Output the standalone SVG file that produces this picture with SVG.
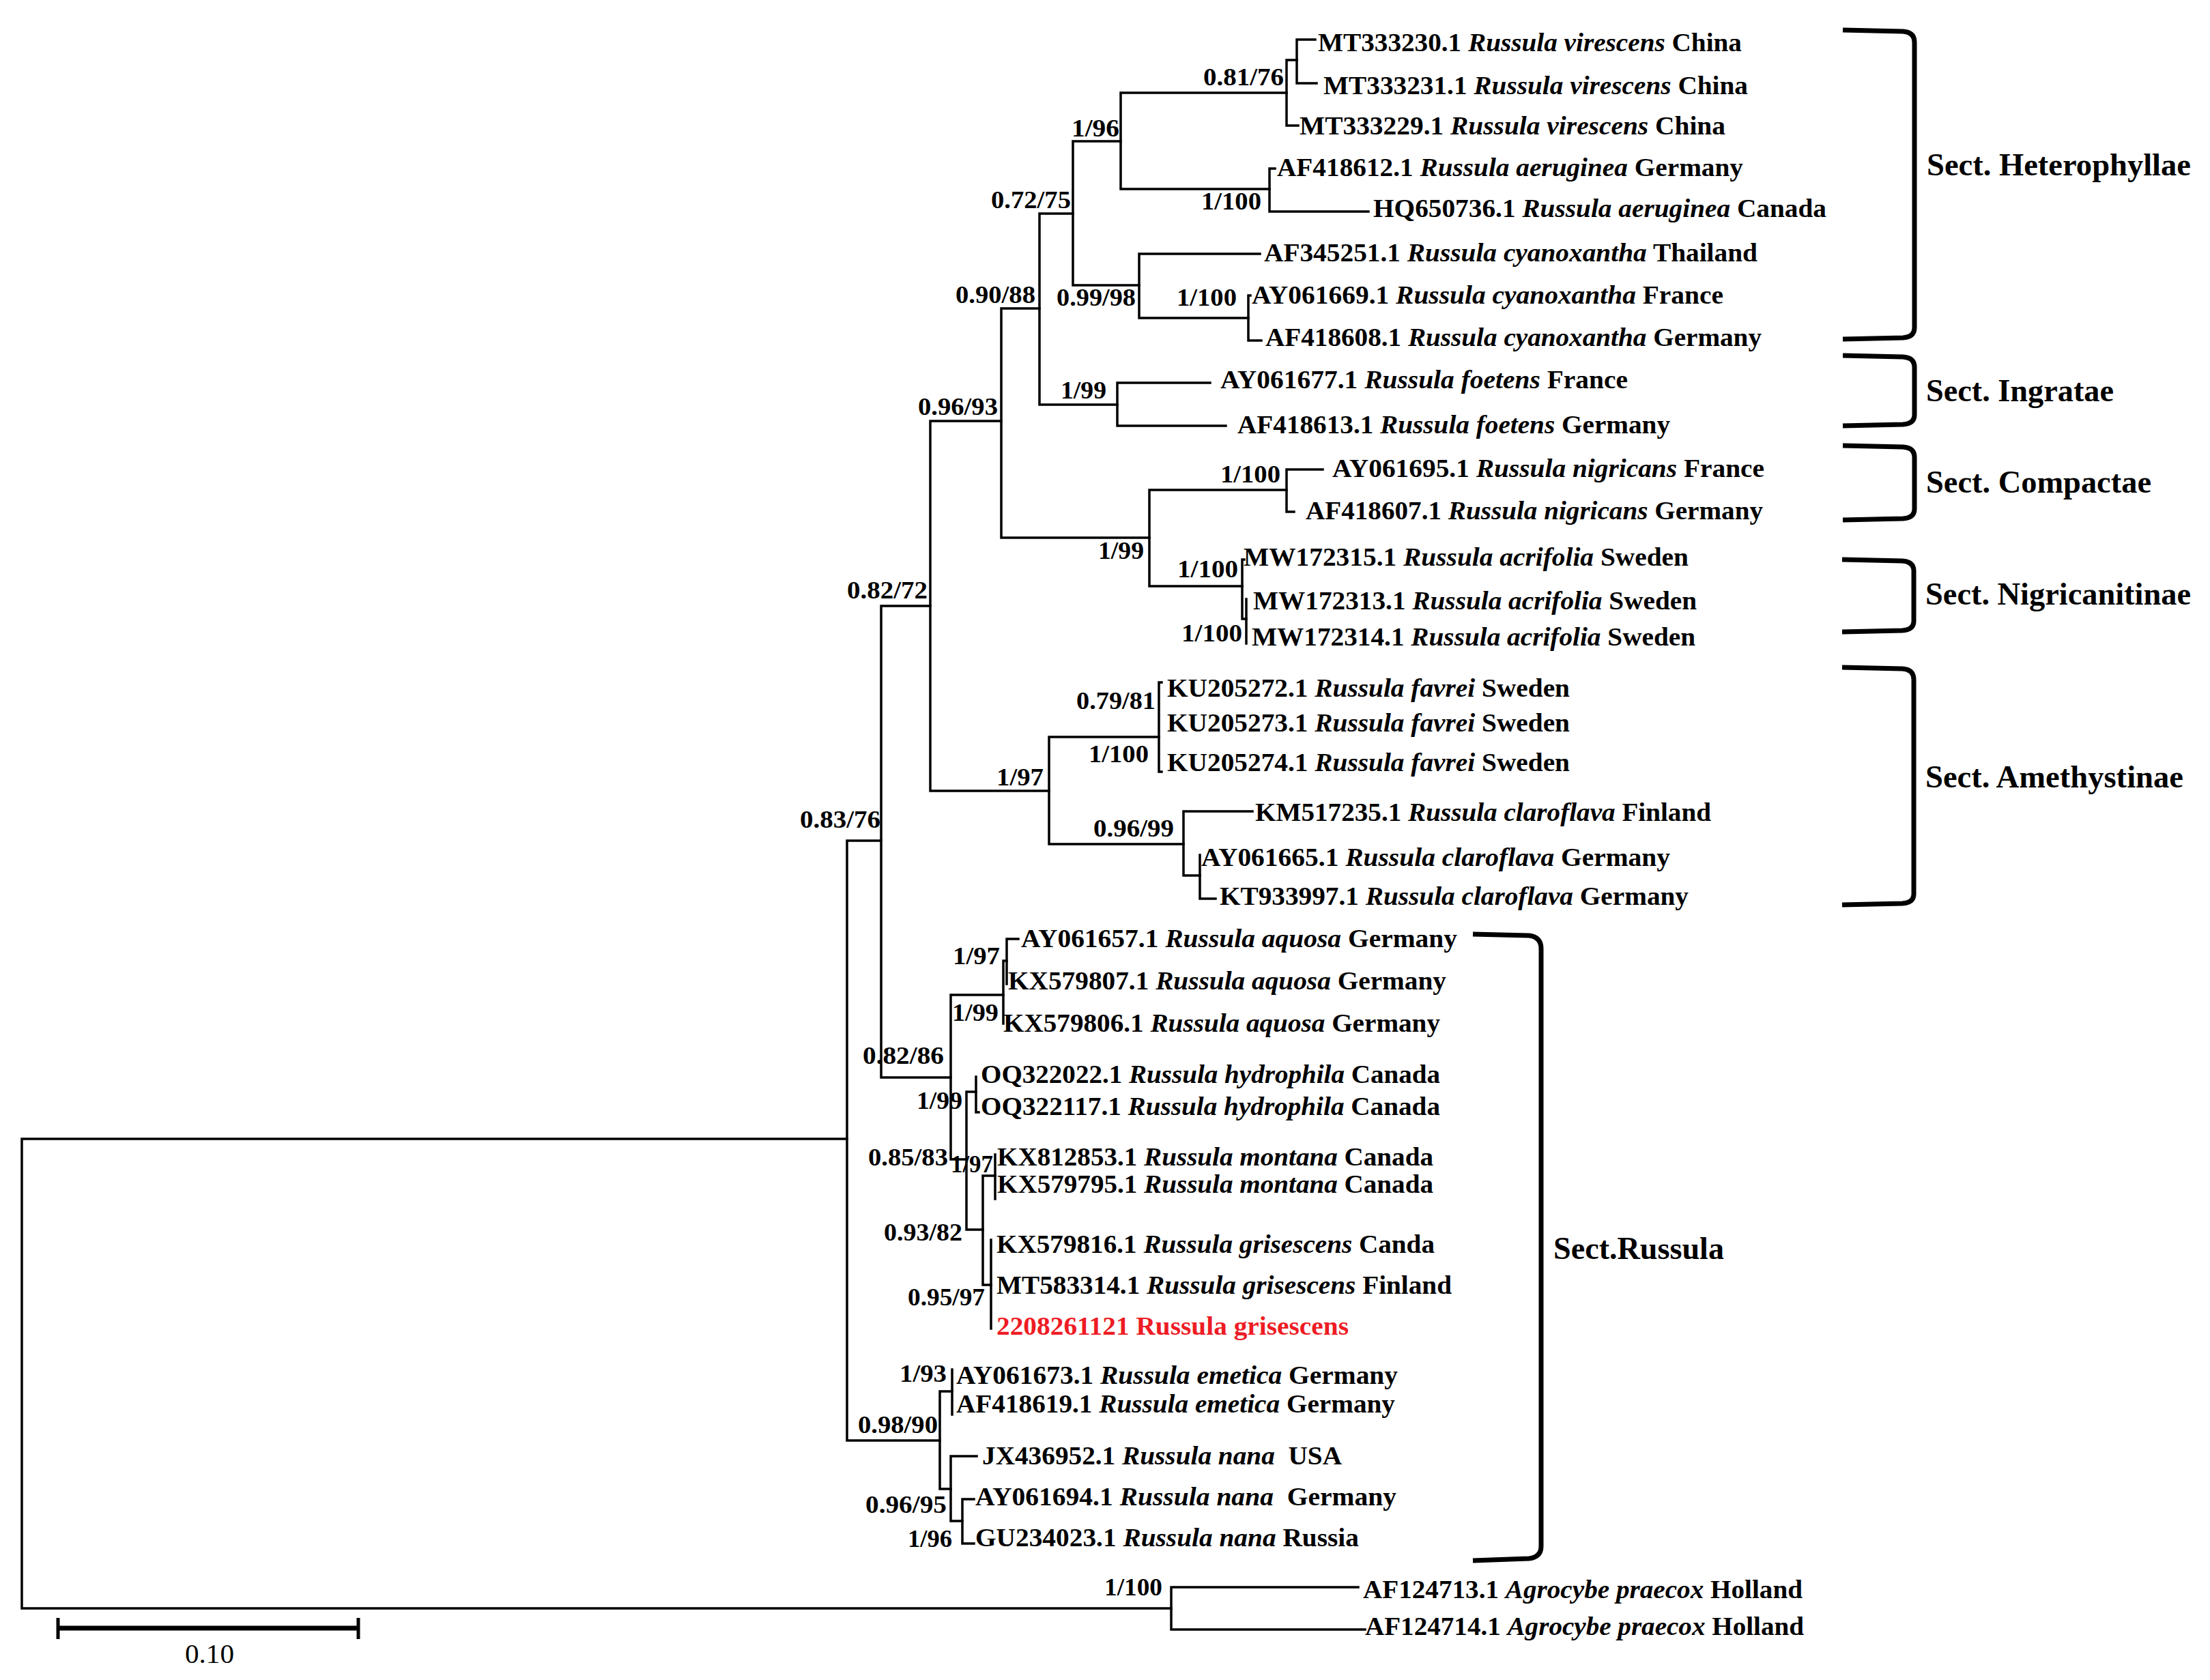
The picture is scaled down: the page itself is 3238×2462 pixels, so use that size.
<svg xmlns="http://www.w3.org/2000/svg" width="3238" height="2462" viewBox="0 0 3238 2462">
<style>
text{font-family:"Liberation Serif","Times New Roman",serif;font-weight:bold;fill:#000}
.t{font-size:38px}
.i{font-style:italic}
.red{fill:#ee1c24}
.s{font-size:35px}
.sec{font-size:47px}
.sb{font-size:40px;font-weight:normal}
.br{fill:none;stroke:#000;stroke-width:3.5;stroke-linecap:square}
.bk{fill:none;stroke:#000;stroke-width:7;stroke-linejoin:round}
</style>
<rect width="3238" height="2462" fill="#fff"/>
<g id="connectors">
<path class="br" d="M32,1669 V2357 M32,1669 H1241 M32,2357 H1716"/>
<path class="br" d="M1716,2326 V2388 M1716,2326 H1990 M1716,2388 H2000"/>
<path class="br" d="M1241,1232 V2111 M1241,1232 H1291 M1241,2111 H1377"/>
<path class="br" d="M1291,888 V1579 M1291,888 H1363 M1291,1579 H1393"/>
<path class="br" d="M1363,617 V1159 M1363,617 H1467 M1363,1159 H1537"/>
<path class="br" d="M1467,452 V788 M1467,452 H1523 M1467,788 H1684"/>
<path class="br" d="M1523,313 V593 M1523,313 H1572 M1523,593 H1637"/>
<path class="br" d="M1572,207 V418 M1572,207 H1642 M1572,418 H1669"/>
<path class="br" d="M1642,136 V277 M1642,136 H1885 M1642,277 H1860"/>
<path class="br" d="M1885,88 V184 M1885,88 H1900 M1885,184 H1902"/>
<path class="br" d="M1900,58 V122 M1900,58 H1927 M1900,122 H1929"/>
<path class="br" d="M1860,247 V310 M1860,247 H1868 M1860,310 H2005"/>
<path class="br" d="M1669,372 V466 M1669,372 H1846 M1669,466 H1829"/>
<path class="br" d="M1829,433 V499 M1829,433 H1832 M1829,499 H1848"/>
<path class="br" d="M1637,561 V624 M1637,561 H1773 M1637,624 H1796"/>
<path class="br" d="M1684,718 V859 M1684,718 H1885 M1684,859 H1820"/>
<path class="br" d="M1885,688 V750 M1885,688 H1938 M1885,750 H1896"/>
<path class="br" d="M1820,820 V907 M1820,820 H1823 M1820,907 H1826"/>
<path class="br" d="M1826,878 V943"/>
<path class="br" d="M1537,1080 V1237 M1537,1080 H1698 M1537,1237 H1734"/>
<path class="br" d="M1698,1000 V1131 M1698,1000 H1702 M1698,1131 H1702"/>
<path class="br" d="M1734,1189 V1283 M1734,1189 H1835 M1734,1283 H1758"/>
<path class="br" d="M1758,1253 V1317 M1758,1317 H1781"/>
<path class="br" d="M1393,1458 V1699 M1393,1458 H1470 M1393,1699 H1416"/>
<path class="br" d="M1470,1408 V1500 M1470,1408 H1475"/>
<path class="br" d="M1475,1376 V1442 M1475,1376 H1492"/>
<path class="br" d="M1416,1600 V1802 M1416,1600 H1430 M1416,1802 H1440"/>
<path class="br" d="M1430,1578 V1630 M1430,1630 H1434"/>
<path class="br" d="M1440,1723 V1883 M1440,1723 H1458 M1440,1883 H1452"/>
<path class="br" d="M1458,1692 V1757"/>
<path class="br" d="M1452,1817 V1947"/>
<path class="br" d="M1377,2039 V2182 M1377,2039 H1395 M1377,2182 H1393"/>
<path class="br" d="M1395,2007 V2073"/>
<path class="br" d="M1393,2134 V2229 M1393,2134 H1431 M1393,2229 H1410"/>
<path class="br" d="M1410,2197 V2262 M1410,2197 H1427 M1410,2262 H1427"/>
</g>
<g id="supports">
<text class="s" x="1763" y="125" textLength="118" lengthAdjust="spacingAndGlyphs">0.81/76</text>
<text class="s" x="1570" y="200" textLength="70" lengthAdjust="spacingAndGlyphs">1/96</text>
<text class="s" x="1760" y="307" textLength="88" lengthAdjust="spacingAndGlyphs">1/100</text>
<text class="s" x="1452" y="305" textLength="117" lengthAdjust="spacingAndGlyphs">0.72/75</text>
<text class="s" x="1548" y="448" textLength="116" lengthAdjust="spacingAndGlyphs">0.99/98</text>
<text class="s" x="1724" y="448" textLength="88" lengthAdjust="spacingAndGlyphs">1/100</text>
<text class="s" x="1400" y="444" textLength="117" lengthAdjust="spacingAndGlyphs">0.90/88</text>
<text class="s" x="1554" y="584" textLength="67" lengthAdjust="spacingAndGlyphs">1/99</text>
<text class="s" x="1345" y="608" textLength="117" lengthAdjust="spacingAndGlyphs">0.96/93</text>
<text class="s" x="1788" y="707" textLength="88" lengthAdjust="spacingAndGlyphs">1/100</text>
<text class="s" x="1609" y="819" textLength="67" lengthAdjust="spacingAndGlyphs">1/99</text>
<text class="s" x="1725" y="846" textLength="89" lengthAdjust="spacingAndGlyphs">1/100</text>
<text class="s" x="1731" y="940" textLength="89" lengthAdjust="spacingAndGlyphs">1/100</text>
<text class="s" x="1241" y="877" textLength="118" lengthAdjust="spacingAndGlyphs">0.82/72</text>
<text class="s" x="1577" y="1039" textLength="116" lengthAdjust="spacingAndGlyphs">0.79/81</text>
<text class="s" x="1595" y="1117" textLength="88" lengthAdjust="spacingAndGlyphs">1/100</text>
<text class="s" x="1460" y="1151" textLength="69" lengthAdjust="spacingAndGlyphs">1/97</text>
<text class="s" x="1172" y="1213" textLength="118" lengthAdjust="spacingAndGlyphs">0.83/76</text>
<text class="s" x="1602" y="1226" textLength="118" lengthAdjust="spacingAndGlyphs">0.96/99</text>
<text class="s" x="1396" y="1413" textLength="69" lengthAdjust="spacingAndGlyphs">1/97</text>
<text class="s" x="1395" y="1496" textLength="68" lengthAdjust="spacingAndGlyphs">1/99</text>
<text class="s" x="1264" y="1559" textLength="119" lengthAdjust="spacingAndGlyphs">0.82/86</text>
<text class="s" x="1343" y="1625" textLength="67" lengthAdjust="spacingAndGlyphs">1/99</text>
<text class="s" x="1272" y="1708" textLength="117" lengthAdjust="spacingAndGlyphs">0.85/83</text>
<text class="s" x="1393" y="1718" textLength="62" lengthAdjust="spacingAndGlyphs">1/97</text>
<text class="s" x="1295" y="1818" textLength="115" lengthAdjust="spacingAndGlyphs">0.93/82</text>
<text class="s" x="1330" y="1913" textLength="113" lengthAdjust="spacingAndGlyphs">0.95/97</text>
<text class="s" x="1318" y="2025" textLength="69" lengthAdjust="spacingAndGlyphs">1/93</text>
<text class="s" x="1257" y="2100" textLength="117" lengthAdjust="spacingAndGlyphs">0.98/90</text>
<text class="s" x="1268" y="2217" textLength="119" lengthAdjust="spacingAndGlyphs">0.96/95</text>
<text class="s" x="1330" y="2267" textLength="65" lengthAdjust="spacingAndGlyphs">1/96</text>
<text class="s" x="1618" y="2338" textLength="85" lengthAdjust="spacingAndGlyphs">1/100</text>
</g>
<g id="leaf-MT333230"><text class="t" x="1931" y="75" textLength="621" lengthAdjust="spacingAndGlyphs">MT333230.1 <tspan class="i">Russula virescens</tspan> China</text></g>
<g id="leaf-MT333231"><text class="t" x="1939" y="138" textLength="622" lengthAdjust="spacingAndGlyphs">MT333231.1 <tspan class="i">Russula virescens</tspan> China</text></g>
<g id="leaf-MT333229"><text class="t" x="1904" y="197" textLength="624" lengthAdjust="spacingAndGlyphs">MT333229.1 <tspan class="i">Russula virescens</tspan> China</text></g>
<g id="leaf-AF418612"><text class="t" x="1871" y="258" textLength="683" lengthAdjust="spacingAndGlyphs">AF418612.1 <tspan class="i">Russula aeruginea</tspan> Germany</text></g>
<g id="leaf-HQ650736"><text class="t" x="2012" y="318" textLength="664" lengthAdjust="spacingAndGlyphs">HQ650736.1 <tspan class="i">Russula aeruginea</tspan> Canada</text></g>
<g id="leaf-AF345251"><text class="t" x="1852" y="383" textLength="723" lengthAdjust="spacingAndGlyphs">AF345251.1 <tspan class="i">Russula cyanoxantha</tspan> Thailand</text></g>
<g id="leaf-AY061669"><text class="t" x="1834" y="445" textLength="691" lengthAdjust="spacingAndGlyphs">AY061669.1 <tspan class="i">Russula cyanoxantha</tspan> France</text></g>
<g id="leaf-AF418608"><text class="t" x="1854" y="507" textLength="727" lengthAdjust="spacingAndGlyphs">AF418608.1 <tspan class="i">Russula cyanoxantha</tspan> Germany</text></g>
<g id="leaf-AY061677"><text class="t" x="1788" y="569" textLength="597" lengthAdjust="spacingAndGlyphs">AY061677.1 <tspan class="i">Russula foetens</tspan> France</text></g>
<g id="leaf-AF418613"><text class="t" x="1813" y="635" textLength="634" lengthAdjust="spacingAndGlyphs">AF418613.1 <tspan class="i">Russula foetens</tspan> Germany</text></g>
<g id="leaf-AY061695"><text class="t" x="1952" y="699" textLength="633" lengthAdjust="spacingAndGlyphs">AY061695.1 <tspan class="i">Russula nigricans</tspan> France</text></g>
<g id="leaf-AF418607"><text class="t" x="1913" y="761" textLength="670" lengthAdjust="spacingAndGlyphs">AF418607.1 <tspan class="i">Russula nigricans</tspan> Germany</text></g>
<g id="leaf-MW172315"><text class="t" x="1822" y="829" textLength="652" lengthAdjust="spacingAndGlyphs">MW172315.1 <tspan class="i">Russula acrifolia</tspan> Sweden</text></g>
<g id="leaf-MW172313"><text class="t" x="1836" y="893" textLength="650" lengthAdjust="spacingAndGlyphs">MW172313.1 <tspan class="i">Russula acrifolia</tspan> Sweden</text></g>
<g id="leaf-MW172314"><text class="t" x="1834" y="946" textLength="650" lengthAdjust="spacingAndGlyphs">MW172314.1 <tspan class="i">Russula acrifolia</tspan> Sweden</text></g>
<g id="leaf-KU205272"><text class="t" x="1710" y="1021" textLength="590" lengthAdjust="spacingAndGlyphs">KU205272.1 <tspan class="i">Russula favrei</tspan> Sweden</text></g>
<g id="leaf-KU205273"><text class="t" x="1710" y="1072" textLength="590" lengthAdjust="spacingAndGlyphs">KU205273.1 <tspan class="i">Russula favrei</tspan> Sweden</text></g>
<g id="leaf-KU205274"><text class="t" x="1710" y="1130" textLength="590" lengthAdjust="spacingAndGlyphs">KU205274.1 <tspan class="i">Russula favrei</tspan> Sweden</text></g>
<g id="leaf-KM517235"><text class="t" x="1839" y="1203" textLength="668" lengthAdjust="spacingAndGlyphs">KM517235.1 <tspan class="i">Russula claroflava</tspan> Finland</text></g>
<g id="leaf-AY061665"><text class="t" x="1760" y="1269" textLength="687" lengthAdjust="spacingAndGlyphs">AY061665.1 <tspan class="i">Russula claroflava</tspan> Germany</text></g>
<g id="leaf-KT933997"><text class="t" x="1787" y="1326" textLength="687" lengthAdjust="spacingAndGlyphs">KT933997.1 <tspan class="i">Russula claroflava</tspan> Germany</text></g>
<g id="leaf-AY061657"><text class="t" x="1496" y="1388" textLength="639" lengthAdjust="spacingAndGlyphs">AY061657.1 <tspan class="i">Russula aquosa</tspan> Germany</text></g>
<g id="leaf-KX579807"><text class="t" x="1477" y="1450" textLength="642" lengthAdjust="spacingAndGlyphs">KX579807.1 <tspan class="i">Russula aquosa</tspan> Germany</text></g>
<g id="leaf-KX579806"><text class="t" x="1470" y="1512" textLength="640" lengthAdjust="spacingAndGlyphs">KX579806.1 <tspan class="i">Russula aquosa</tspan> Germany</text></g>
<g id="leaf-OQ322022"><text class="t" x="1437" y="1587" textLength="673" lengthAdjust="spacingAndGlyphs">OQ322022.1 <tspan class="i">Russula hydrophila</tspan> Canada</text></g>
<g id="leaf-OQ322117"><text class="t" x="1437" y="1634" textLength="673" lengthAdjust="spacingAndGlyphs">OQ322117.1 <tspan class="i">Russula hydrophila</tspan> Canada</text></g>
<g id="leaf-KX812853"><text class="t" x="1461" y="1708" textLength="639" lengthAdjust="spacingAndGlyphs">KX812853.1 <tspan class="i">Russula montana</tspan> Canada</text></g>
<g id="leaf-KX579795"><text class="t" x="1461" y="1748" textLength="639" lengthAdjust="spacingAndGlyphs">KX579795.1 <tspan class="i">Russula montana</tspan> Canada</text></g>
<g id="leaf-KX579816"><text class="t" x="1460" y="1836" textLength="642" lengthAdjust="spacingAndGlyphs">KX579816.1 <tspan class="i">Russula grisescens</tspan> Canda</text></g>
<g id="leaf-MT583314"><text class="t" x="1460" y="1896" textLength="667" lengthAdjust="spacingAndGlyphs">MT583314.1 <tspan class="i">Russula grisescens</tspan> Finland</text></g>
<g id="leaf-2208261121"><text class="t red" x="1460" y="1956" textLength="516" lengthAdjust="spacingAndGlyphs">2208261121 Russula grisescens</text></g>
<g id="leaf-AY061673"><text class="t" x="1401" y="2028" textLength="647" lengthAdjust="spacingAndGlyphs">AY061673.1 <tspan class="i">Russula emetica</tspan> Germany</text></g>
<g id="leaf-AF418619"><text class="t" x="1401" y="2070" textLength="643" lengthAdjust="spacingAndGlyphs">AF418619.1 <tspan class="i">Russula emetica</tspan> Germany</text></g>
<g id="leaf-JX436952"><text class="t" x="1439" y="2146" textLength="527" lengthAdjust="spacingAndGlyphs" xml:space="preserve">JX436952.1 <tspan class="i">Russula nana</tspan>  USA</text></g>
<g id="leaf-AY061694"><text class="t" x="1429" y="2206" textLength="617" lengthAdjust="spacingAndGlyphs" xml:space="preserve">AY061694.1 <tspan class="i">Russula nana</tspan>  Germany</text></g>
<g id="leaf-GU234023"><text class="t" x="1429" y="2266" textLength="562" lengthAdjust="spacingAndGlyphs">GU234023.1 <tspan class="i">Russula nana</tspan> Russia</text></g>
<g id="leaf-AF124713"><text class="t" x="1997" y="2342" textLength="644" lengthAdjust="spacingAndGlyphs">AF124713.1 <tspan class="i">Agrocybe praecox</tspan> Holland</text></g>
<g id="leaf-AF124714"><text class="t" x="2000" y="2396" textLength="643" lengthAdjust="spacingAndGlyphs">AF124714.1 <tspan class="i">Agrocybe praecox</tspan> Holland</text></g>
<g id="sect-heterophyllae">
<path class="bk" d="M2700,44 L2788,46 Q2805,47 2805,62 L2805,480 Q2805,494 2788,495 L2700,497"/>
<text class="sec" x="2823" y="257" textLength="387" lengthAdjust="spacingAndGlyphs">Sect. Heterophyllae</text>
</g>
<g id="sect-ingratae">
<path class="bk" d="M2700,521 L2788,523 Q2805,524 2805,538 L2805,608 Q2805,621 2788,622 L2700,624"/>
<text class="sec" x="2822" y="588" textLength="275" lengthAdjust="spacingAndGlyphs">Sect. Ingratae</text>
</g>
<g id="sect-compactae">
<path class="bk" d="M2700,653 L2788,655 Q2805,656 2805,670 L2805,746 Q2805,759 2788,760 L2700,762"/>
<text class="sec" x="2822" y="722" textLength="330" lengthAdjust="spacingAndGlyphs">Sect. Compactae</text>
</g>
<g id="sect-nigricanitinae">
<path class="bk" d="M2699,820 L2787,822 Q2804,823 2804,837 L2804,910 Q2804,923 2787,924 L2699,926"/>
<text class="sec" x="2821" y="886" textLength="389" lengthAdjust="spacingAndGlyphs">Sect. Nigricanitinae</text>
</g>
<g id="sect-amethystinae">
<path class="bk" d="M2699,978 L2787,980 Q2804,981 2804,996 L2804,1310 Q2804,1323 2787,1324 L2699,1326"/>
<text class="sec" x="2821" y="1154" textLength="378" lengthAdjust="spacingAndGlyphs">Sect. Amethystinae</text>
</g>
<g id="sect-russula">
<path class="bk" d="M2158,1369 L2240,1371 Q2258,1373 2258,1390 L2258,2266 Q2258,2282 2240,2284 L2158,2287"/>
<text class="sec" x="2276" y="1845" textLength="250" lengthAdjust="spacingAndGlyphs">Sect.Russula</text>
</g>
<g id="scale-bar">
<path fill="none" stroke="#000" stroke-width="7" d="M83,2386 H527"/>
<path fill="none" stroke="#000" stroke-width="5" d="M85,2371 V2402 M525,2371 V2402"/>
<text class="sb" x="271" y="2437" textLength="72" lengthAdjust="spacingAndGlyphs">0.10</text>
</g>
</svg>
